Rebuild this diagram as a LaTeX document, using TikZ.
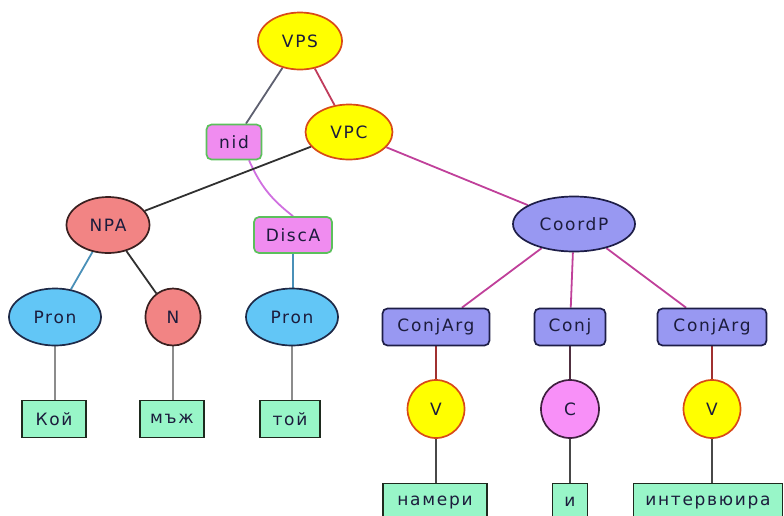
\documentclass[tikz,border=0pt]{standalone}
\usepackage{fontspec}
\newfontfamily\lblfont{DejaVu Sans}[LetterSpace=10]
\usetikzlibrary{shapes.geometric,backgrounds}
\definecolor{txt}{HTML}{1C1C3C}
\definecolor{yelfill}{HTML}{FFFF00}
\definecolor{yeldraw}{HTML}{D84A18}
\definecolor{vioFill}{HTML}{F08CF0}
\definecolor{greenDraw}{HTML}{5CC05C}
\definecolor{salFill}{HTML}{F28484}
\definecolor{salDraw}{HTML}{3A2020}
\definecolor{blueFill}{HTML}{62C6F6}
\definecolor{blueDraw}{HTML}{1E2A48}
\definecolor{perFill}{HTML}{9898F2}
\definecolor{perDraw}{HTML}{1E1E48}
\definecolor{cFill}{HTML}{F890F8}
\definecolor{cDraw}{HTML}{402040}
\definecolor{leafFill}{HTML}{98F6C8}
\definecolor{leafDraw}{HTML}{1E2A1E}
\definecolor{eGrey}{HTML}{5E6070}
\definecolor{eRasp}{HTML}{C03C5C}
\definecolor{eMag}{HTML}{C0409A}
\definecolor{eVio}{HTML}{D070E0}
\definecolor{eDark}{HTML}{303030}
\definecolor{eBlue}{HTML}{4A90B8}
\definecolor{eLight}{HTML}{8C8C8C}
\definecolor{eRed}{HTML}{A03030}
\definecolor{eMid}{HTML}{484848}
\definecolor{ePurp}{HTML}{503040}
\tikzset{
  base/.style={inner sep=0pt, line width=1.7pt, text=txt, font=\lblfont\fontsize{17}{19}\selectfont},
  yel/.style={base, ellipse, fill=yelfill, draw=yeldraw},
  sal/.style={base, ellipse, fill=salFill, draw=salDraw},
  blu/.style={base, ellipse, fill=blueFill, draw=blueDraw, minimum width=92pt, minimum height=57pt},
  per/.style={base, ellipse, fill=perFill, draw=perDraw},
  perbox/.style={base, rectangle, rounded corners=5pt, fill=perFill, draw=perDraw, minimum height=37pt},
  viobox/.style={base, rectangle, rounded corners=5pt, fill=vioFill, draw=greenDraw, minimum height=35pt},
  cnode/.style={base, ellipse, fill=cFill, draw=cDraw},
  leaf/.style={base, rectangle, fill=leafFill, draw=leafDraw, minimum height=37pt},
  edge/.style={line width=1.8pt}
}
\begin{document}
\begin{tikzpicture}[x=1pt,y=-1pt]
\useasboundingbox (0,0) rectangle (784,515);
% top
\node[yel, minimum width=84pt, minimum height=57pt] (vps) at (300,41) {VPS};
\node[yel, minimum width=87pt, minimum height=55pt] (vpc) at (349,132) {VPC};
\node[viobox, minimum width=55pt] (nid) at (234,142) {nid};
% second level
\node[sal, minimum width=83pt, minimum height=56pt] (npa) at (108,225) {NPA};
\node[viobox, minimum width=78pt, minimum height=36pt] (disca) at (293,235) {DiscA};
\node[per, minimum width=122pt, minimum height=55pt] (coordp) at (574,224) {CoordP};
% third level
\node[blu] (pron1) at (55,317) {Pron};
\node[sal, minimum width=55pt, minimum height=57pt] (n) at (173,317) {N};
\node[blu] (pron2) at (292,317) {Pron};
\node[perbox, minimum width=107pt] (ca1) at (436,327) {ConjArg};
\node[perbox, minimum width=71pt] (conj) at (570,327) {Conj};
\node[perbox, minimum width=109pt] (ca2) at (712,327) {ConjArg};
% leaves row 1
\node[leaf, minimum width=64pt] (koi) at (54,419) {Кой};
\node[leaf, minimum width=64pt] (maj) at (172,419) {мъж};
\node[leaf, minimum width=60pt] (toi) at (290,419) {той};
% verbs
\node[yel, minimum width=57pt, minimum height=58pt] (v1) at (436,409) {V};
\node[cnode, minimum width=58pt, minimum height=58pt] (c) at (570,409) {C};
\node[yel, minimum width=57pt, minimum height=58pt] (v2) at (712,409) {V};
% leaves row 2
\node[leaf, minimum width=104pt] (nameri) at (435,502) {намери};
\node[leaf, minimum width=35pt] (i) at (570,502) {и};
\node[leaf, minimum width=149pt] (interv) at (708,502) {интервюира};
% edges
\begin{scope}[on background layer]
\draw[edge, eGrey] (vps) -- (nid);
\draw[edge, eRasp] (vps) -- (vpc);
\draw[edge, eVio] ([xshift=15pt]nid.south) to[bend right=14] (disca.north);
\draw[edge, eDark] (vpc) -- (npa);
\draw[edge, eMag] (vpc) -- (coordp);
\draw[edge, eBlue] (npa) -- (pron1);
\draw[edge, eDark] (npa) -- (n);
\draw[edge, eBlue] (disca.south) -- (disca.south |- pron2.north);
\draw[edge, eLight] (pron1.south) -- (pron1.south |- koi.north);
\draw[edge, eLight] (n.south) -- (n.south |- maj.north);
\draw[edge, eLight] (pron2.south) -- (pron2.south |- toi.north);
\draw[edge, eMag] (coordp) -- (ca1);
\draw[edge, eMag] (coordp) -- (conj);
\draw[edge, eMag] (coordp) -- (ca2);
\draw[edge, eRed] (ca1.south) -- (v1.north);
\draw[edge, ePurp] (conj.south) -- (c.north);
\draw[edge, eRed] (ca2.south) -- (v2.north);
\draw[edge, eMid] (v1.south) -- (v1.south |- nameri.north);
\draw[edge, eMid] (c.south) -- (i.north);
\draw[edge, eMid] (v2.south) -- (v2.south |- interv.north);
\end{scope}
\end{tikzpicture}
\end{document}
